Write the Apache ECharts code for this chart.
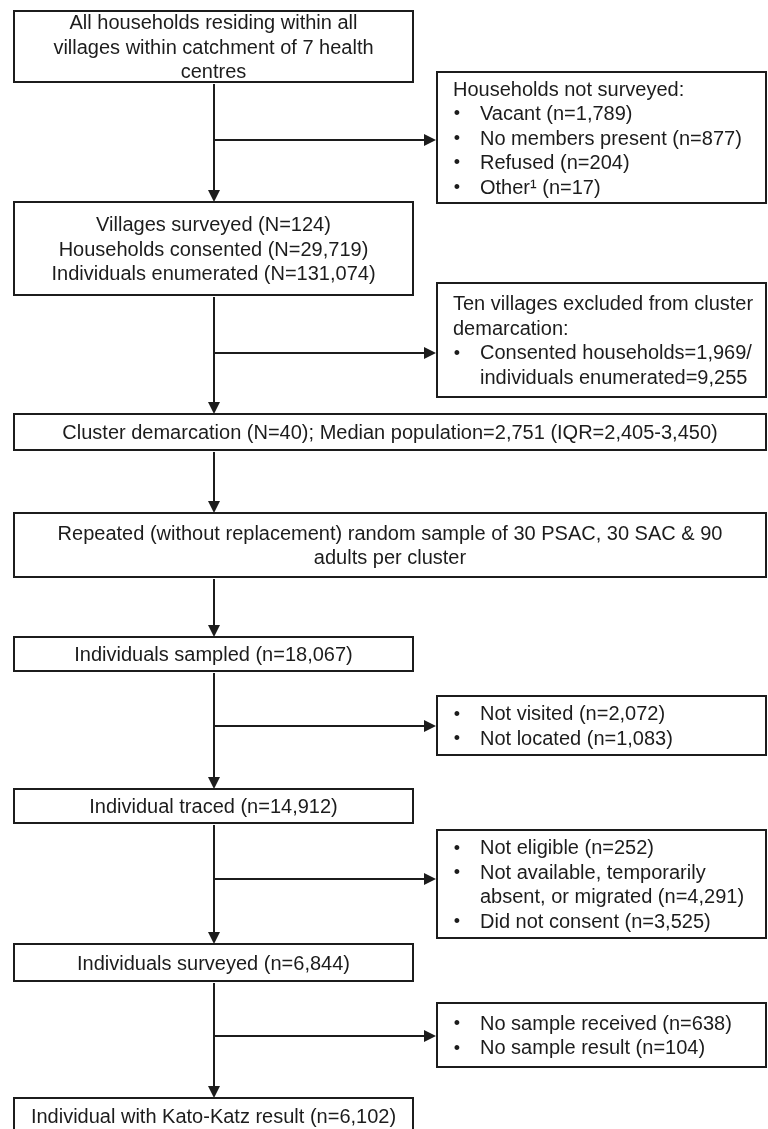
<!DOCTYPE html>
<html lang="en">
<head>
  <meta charset="UTF-8">
  <title>Study flow chart</title>
  <script src="https://cdn.jsdelivr.net/npm/echarts@6/dist/echarts.min.js"></script>
  <style>
    html, body {
      margin: 0;
      padding: 0;
      background: #fff;
    }

    #chart {
      width: 768px;
      height: 1129px;
    }
  </style>
</head>

<body>
  <div id="chart"></div>

  <script>
    // main column, top to bottom
    const mainSteps = [
      ['All households residing within all', 'villages within catchment of 7 health', 'centres'],
      ['Villages surveyed (N=124)', 'Households consented (N=29,719)', 'Individuals enumerated (N=131,074)'],
      ['Cluster demarcation (N=40); Median population=2,751 (IQR=2,405-3,450)'],
      ['Repeated (without replacement) random sample of 30 PSAC, 30 SAC & 90', 'adults per cluster'],
      ['Individuals sampled (n=18,067)'],
      ['Individual traced (n=14,912)'],
      ['Individuals surveyed (n=6,844)'],
      ['Individual with Kato-Katz result (n=6,102)']
    ];

    // side boxes (exclusions): heading lines + bullet items (an item can wrap)
    const exclHeaders = [
      ['Households not surveyed:'],
      ['Ten villages excluded from cluster', 'demarcation:'],
      [],
      [],
      []
    ];
    const exclItems = [
      [['Vacant (n=1,789)'], ['No members present (n=877)'], ['Refused (n=204)'], ['Other¹ (n=17)']],
      [['Consented households=1,969/', 'individuals enumerated=9,255']],
      [['Not visited (n=2,072)'], ['Not located (n=1,083)']],
      [['Not eligible (n=252)'], ['Not available, temporarily', 'absent, or migrated (n=4,291)'], ['Did not consent (n=3,525)']],
      [['No sample received (n=638)'], ['No sample result (n=104)']]
    ];

    // ---- layout (page units, y goes down) ----
    const W = 768, H = 1129;
    const STEM_X = 214;
    const NARROW = [14, 413];
    const WIDE = [14, 766];
    const SIDE = [437, 766];
    const mainBoxY = [[11, 82], [202, 295], [414, 450], [513, 577], [637, 671], [789, 823], [944, 981], [1098, 1136]];
    const mainWide = [false, false, true, true, false, false, false, false];
    const sideBoxY = [[72, 203], [283, 397], [696, 755], [830, 938], [1003, 1067]];
    const branchY = [140, 353, 726, 879, 1036];
    const LINE_H = 24.5;
    const TEXT_DY = 1.5; // text sits a touch below box centre
    const FONT = '"Liberation Sans", Arial, sans-serif';
    const INK = '#1c1c1c';

    const chart = echarts.init(document.getElementById('chart'));

    function rectFrom(api, x0, y0, x1, y1) {
      const a = api.coord([x0, y0]);
      const b = api.coord([x1, y1]);
      return { x: a[0], y: a[1], width: b[0] - a[0], height: b[1] - a[1] };
    }

    function renderMain(params, api) {
      const i = params.dataIndex;
      const xs = mainWide[i] ? WIDE : NARROW;
      const [y0, y1] = mainBoxY[i];
      const r = rectFrom(api, xs[0], y0, xs[1], y1);
      const lines = mainSteps[i];
      const c = api.coord([(xs[0] + xs[1]) / 2, (y0 + Math.min(y1, 1134)) / 2 + TEXT_DY]);
      return {
        type: 'group',
        children: [
          { type: 'rect', shape: r, style: { fill: '#fff', stroke: INK, lineWidth: 2 } },
          {
            type: 'text',
            x: c[0],
            y: c[1],
            style: {
              text: lines.join('\n'),
              font: '20px ' + FONT,
              fill: INK,
              align: 'center',
              verticalAlign: 'middle',
              lineHeight: LINE_H
            }
          }
        ]
      };
    }

    function renderSide(params, api) {
      const k = params.dataIndex;
      const [y0, y1] = sideBoxY[k];
      const r = rectFrom(api, SIDE[0], y0, SIDE[1], y1);
      const rows = [];
      exclHeaders[k].forEach(t => rows.push({ kind: 'head', text: t }));
      exclItems[k].forEach(item => {
        item.forEach((t, j) => rows.push({ kind: j === 0 ? 'bullet' : 'cont', text: t }));
      });
      const mid = (y0 + y1) / 2 + TEXT_DY;
      const first = mid - (rows.length - 1) * LINE_H / 2;
      const children = [{ type: 'rect', shape: r, style: { fill: '#fff', stroke: INK, lineWidth: 2 } }];
      rows.forEach((row, n) => {
        const y = first + n * LINE_H;
        const tx = row.kind === 'head' ? 453 : 480;
        const p = api.coord([tx, y]);
        children.push({
          type: 'text', x: p[0], y: p[1],
          style: { text: row.text, font: '20px ' + FONT, fill: INK, align: 'left', verticalAlign: 'middle' }
        });
        if (row.kind === 'bullet') {
          const b = api.coord([457, y]);
          children.push({
            type: 'text', x: b[0], y: b[1],
            style: { text: '•', font: '18px ' + FONT, fill: INK, align: 'center', verticalAlign: 'middle' }
          });
        }
      });
      return { type: 'group', children: children };
    }

    // connectors: 0..6 vertical stem pieces, 7..11 side branches
    const connectorIds = mainSteps.slice(1).map((_, i) => 'v' + i).concat(branchY.map((_, k) => 'h' + k));

    function renderConnector(params, api) {
      const id = connectorIds[params.dataIndex];
      const n = +id.slice(1);
      let from, to, head;
      if (id[0] === 'v') {
        from = api.coord([STEM_X, mainBoxY[n][1] + 2]);
        to = api.coord([STEM_X, mainBoxY[n + 1][0]]);
        head = [[to[0], to[1]], [to[0] - 6, to[1] - 12], [to[0] + 6, to[1] - 12]];
        to = [to[0], to[1] - 10];
      } else {
        from = api.coord([STEM_X, branchY[n]]);
        to = api.coord([SIDE[0] - 1, branchY[n]]);
        head = [[to[0], to[1]], [to[0] - 12, to[1] - 6], [to[0] - 12, to[1] + 6]];
        to = [to[0] - 10, to[1]];
      }
      return {
        type: 'group',
        children: [
          { type: 'line', shape: { x1: from[0], y1: from[1], x2: to[0], y2: to[1] }, style: { stroke: INK, lineWidth: 2 } },
          { type: 'polygon', shape: { points: head }, style: { fill: INK } }
        ]
      };
    }

    chart.setOption({
      animation: false,
      backgroundColor: '#fff',
      grid: { left: 0, right: 0, top: 0, bottom: 0 },
      xAxis: { type: 'value', min: 0, max: W, show: false },
      yAxis: { type: 'value', min: 0, max: H, inverse: true, show: false },
      series: [
        {
          type: 'custom',
          name: 'connectors',
          renderItem: renderConnector,
          data: connectorIds.map((_, i) => [i]),
          clip: false,
          z: 1
        },
        {
          type: 'custom',
          name: 'main',
          renderItem: renderMain,
          data: mainSteps.map((_, i) => [i]),
          clip: false,
          z: 2
        },
        {
          type: 'custom',
          name: 'excluded',
          renderItem: renderSide,
          data: exclItems.map((_, i) => [i]),
          clip: false,
          z: 2
        }
      ]
    });
  </script>
</body>

</html>
